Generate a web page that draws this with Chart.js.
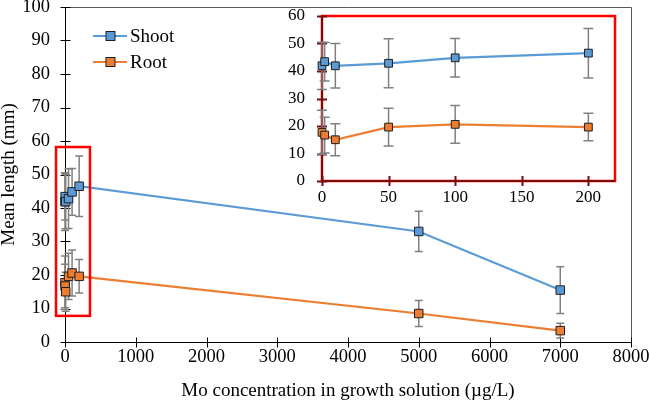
<!DOCTYPE html>
<html>
<head>
<meta charset="utf-8">
<script src="https://cdn.jsdelivr.net/npm/chart.js@4.4.1/dist/chart.umd.min.js"></script>
<style>
  html, body { margin: 0; padding: 0; background: #ffffff; }
  #wrap { position: relative; width: 650px; height: 404px; }
  #main { position: absolute; left: 0; top: 0; }
  #inset { position: absolute; left: 262px; top: 0; }
</style>
</head>
<body>
<div id="wrap">
  <canvas id="main" width="650" height="404"></canvas>
  <canvas id="inset" width="380" height="215"></canvas>
</div>
<script>
// ---------------- data ----------------
const concentration = [0, 2, 10, 50, 100, 200, 5000, 7000];   // µg/L
const shootMean = [41.9, 43.4, 41.9, 42.8, 44.8, 46.5, 33.0, 15.5];
const shootSD   = [ 8.6,  7.0,  8.1,  8.9,  7.0,  9.0,  6.0,  7.0];
const rootMean  = [17.7, 16.7, 15.0, 19.6, 20.6, 19.6,  8.5,  3.4];
const rootSD    = [ 8.0,  6.5,  5.8,  6.9,  6.9,  5.0,  3.9,  2.2];
const seriesNames = ['Shoot', 'Root'];

const mainXTicks  = [0, 1000, 2000, 3000, 4000, 5000, 6000, 7000, 8000];
const mainYTicks  = [0, 10, 20, 30, 40, 50, 60, 70, 80, 90, 100];
const insetXTicks = [0, 50, 100, 150, 200];
const insetYTicks = [0, 10, 20, 30, 40, 50, 60];
const insetMaxConc = 200;
// region of the main chart that the inset magnifies (data units)
const zoomRegion = { xMin: -127, xMax: 353, yMin: 7.8, yMax: 58.2 };

const xTitle = 'Mo concentration in growth solution (µg/L)';
const yTitle = 'Mean length (mm)';

// ---------------- styles ----------------
const BLUE = '#5B9BD5', ORANGE = '#ED7D31', ERR = '#808080', MARK_BORDER = '#1e1e1e';
const FONT = "'Liberation Serif', 'Times New Roman', serif";

function points(means, sds, maxX) {
  const out = [];
  concentration.forEach((c, i) => {
    if (maxX === undefined || c <= maxX) out.push({ x: c, y: means[i], e: sds[i] });
  });
  return out;
}

function makeDataset(label, means, sds, color, radius, maxX) {
  return {
    label, data: points(means, sds, maxX),
    borderColor: color, backgroundColor: color, borderWidth: 2.2,
    pointStyle: 'rect', pointRadius: radius, pointHoverRadius: radius,
    pointBackgroundColor: color, pointBorderColor: MARK_BORDER, pointBorderWidth: 1,
    tension: 0, clip: false
  };
}

const decor = {
  id: 'decor',
  beforeDatasetsDraw(chart, args, o) {
    const { ctx, chartArea: a } = chart;
    const xs = chart.scales.x, ys = chart.scales.y;
    ctx.save();
    if (o.frame) {
      ctx.strokeStyle = '#595959'; ctx.lineWidth = 1;
      ctx.beginPath();
      ctx.moveTo(a.left, a.top + 0.5); ctx.lineTo(a.right + 0.5, a.top + 0.5);
      ctx.lineTo(a.right + 0.5, a.bottom);
      ctx.stroke();
    }
    if (o.redFrame) {
      ctx.strokeStyle = '#FF0000'; ctx.lineWidth = 2.5;
      ctx.strokeRect(a.left, a.top, a.right - a.left, a.bottom - a.top);
    }
    ctx.strokeStyle = o.axisColor; ctx.lineWidth = o.axisWidth;
    const lx = Math.round(a.left) + (o.axisWidth % 2 ? 0.5 : 0);
    const by = Math.round(a.bottom) + (o.axisWidth % 2 ? 0.5 : 0);
    ctx.beginPath();
    ctx.moveTo(lx, a.top); ctx.lineTo(lx, by);
    ctx.lineTo(a.right, by);
    ctx.stroke();
    ctx.beginPath();
    ys.ticks.forEach(t => {
      const py = Math.round(ys.getPixelForValue(t.value)) + 0.5;
      ctx.moveTo(lx - o.tick, py); ctx.lineTo(lx + o.tick, py);
    });
    xs.ticks.forEach(t => {
      const px = Math.round(xs.getPixelForValue(t.value)) + 0.5;
      ctx.moveTo(px, by - o.tick); ctx.lineTo(px, by + o.tick);
    });
    ctx.stroke();
    ctx.strokeStyle = ERR; ctx.lineWidth = 1.5;
    chart.data.datasets.forEach(ds => {
      ds.data.forEach(p => {
        const px = xs.getPixelForValue(p.x);
        const top = ys.getPixelForValue(p.y + p.e);
        const bot = ys.getPixelForValue(p.y - p.e);
        ctx.beginPath();
        ctx.moveTo(px, top); ctx.lineTo(px, bot);
        ctx.moveTo(px - o.cap, top); ctx.lineTo(px + o.cap, top);
        ctx.moveTo(px - o.cap, bot); ctx.lineTo(px + o.cap, bot);
        ctx.stroke();
      });
    });
    ctx.restore();
  },
  afterDatasetsDraw(chart, args, o) {
    if (!o.zoomBox) return;
    const { ctx } = chart;
    const xs = chart.scales.x, ys = chart.scales.y;
    const r = o.zoomBox;
    const x1 = xs.getPixelForValue(r.xMin), x2 = xs.getPixelForValue(r.xMax);
    const y1 = ys.getPixelForValue(r.yMax), y2 = ys.getPixelForValue(r.yMin);
    ctx.save();
    ctx.strokeStyle = '#FF0000'; ctx.lineWidth = 2.5;
    ctx.strokeRect(x1, y1, x2 - x1, y2 - y1);
    ctx.restore();
  },
  afterDraw(chart, args, o) {
    if (!o.legend) return;
    const { ctx } = chart;
    ctx.save();
    chart.data.datasets.forEach((ds, i) => {
      const y = 36 + i * 26;
      ctx.strokeStyle = ds.borderColor; ctx.lineWidth = 2.2;
      ctx.beginPath(); ctx.moveTo(93, y); ctx.lineTo(127, y); ctx.stroke();
      ctx.fillStyle = ds.borderColor; ctx.strokeStyle = MARK_BORDER; ctx.lineWidth = 1;
      ctx.fillRect(106, y - 4.5, 9, 9);
      ctx.strokeRect(106, y - 4.5, 9, 9);
      ctx.fillStyle = '#000'; ctx.font = '19px ' + FONT;
      ctx.textBaseline = 'middle'; ctx.textAlign = 'left';
      ctx.fillText(ds.label, 130, y + 1);
    });
    ctx.restore();
  }
};

function fixTicks(values) {
  return scale => { scale.ticks = values.map(v => ({ value: v })); };
}

new Chart(document.getElementById('main'), {
  type: 'line',
  data: {
    datasets: [
      makeDataset(seriesNames[0], shootMean, shootSD, BLUE, 6),
      makeDataset(seriesNames[1], rootMean, rootSD, ORANGE, 6)
    ]
  },
  options: {
    responsive: false, animation: false, devicePixelRatio: 1,
    layout: { padding: { left: 0, top: 7, right: 19, bottom: 0 } },
    plugins: {
      legend: { display: false }, tooltip: { enabled: false },
      decor: { frame: true, axisColor: '#000', axisWidth: 1, tick: 5, cap: 4, zoomBox: zoomRegion, legend: true }
    },
    scales: {
      x: {
        type: 'linear', min: 0, max: 8000,
        afterBuildTicks: fixTicks(mainXTicks),
        afterFit: s => { s.height = 62; s.paddingLeft = 0; s.paddingRight = 0; },
        grid: { display: false, drawTicks: false }, border: { display: false },
        ticks: { color: '#000', font: { family: FONT, size: 18.5 }, padding: 4, maxRotation: 0, autoSkip: false,
                 callback: v => String(v) },
        title: { display: true, text: xTitle, color: '#000', font: { family: FONT, size: 19, lineHeight: 1 }, padding: { top: 0, bottom: 3 } }
      },
      y: {
        type: 'linear', min: 0, max: 100,
        afterBuildTicks: fixTicks(mainYTicks),
        afterFit: s => { s.width = 65; s.paddingTop = 0; s.paddingBottom = 0; },
        grid: { display: false, drawTicks: false }, border: { display: false },
        ticks: { color: '#000', font: { family: FONT, size: 18.5 }, padding: 15, autoSkip: false,
                 callback: v => String(v) },
        title: { display: true, text: yTitle, color: '#000', font: { family: FONT, size: 19, lineHeight: 1 }, padding: { top: 0, bottom: 0 } }
      }
    }
  },
  plugins: [decor]
});

new Chart(document.getElementById('inset'), {
  type: 'line',
  data: {
    datasets: [
      makeDataset(seriesNames[0], shootMean, shootSD, BLUE, 5.5, insetMaxConc),
      makeDataset(seriesNames[1], rootMean, rootSD, ORANGE, 5.5, insetMaxConc)
    ]
  },
  options: {
    responsive: false, animation: false, devicePixelRatio: 1,
    layout: { padding: { left: 0, top: 16, right: 27, bottom: 0 } },
    plugins: {
      legend: { display: false }, tooltip: { enabled: false },
      decor: { frame: false, redFrame: true, axisColor: '#7a0c0c', axisWidth: 2, tick: 5, cap: 5 }
    },
    scales: {
      x: {
        type: 'linear', min: 0, max: 220,
        afterBuildTicks: fixTicks(insetXTicks),
        afterFit: s => { s.height = 34; s.paddingLeft = 0; s.paddingRight = 0; },
        grid: { display: false, drawTicks: false }, border: { display: false },
        ticks: { color: '#000', font: { family: FONT, size: 17 }, padding: 6, maxRotation: 0, autoSkip: false,
                 callback: v => String(v) }
      },
      y: {
        type: 'linear', min: 0, max: 60,
        afterBuildTicks: fixTicks(insetYTicks),
        afterFit: s => { s.width = 60; s.paddingTop = 0; s.paddingBottom = 0; },
        grid: { display: false, drawTicks: false }, border: { display: false },
        ticks: { color: '#000', font: { family: FONT, size: 17 }, padding: 17, autoSkip: false,
                 callback: v => String(v) }
      }
    }
  },
  plugins: [decor]
});
</script>
</body>
</html>
